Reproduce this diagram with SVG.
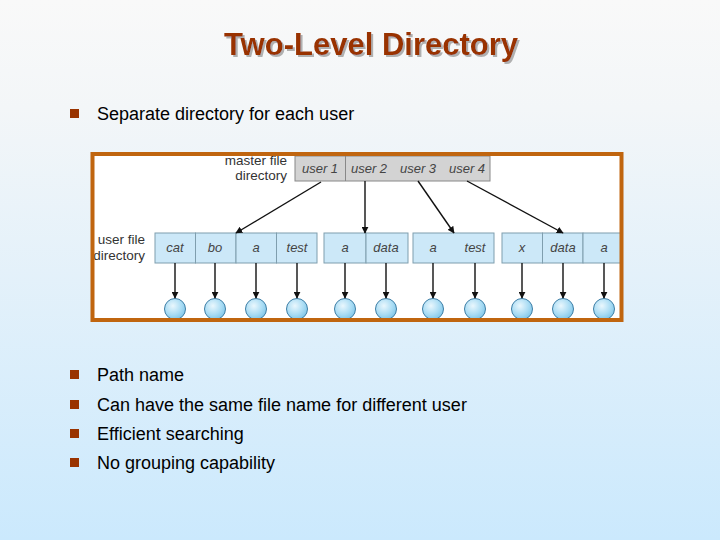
<svg xmlns="http://www.w3.org/2000/svg" width="720" height="540" viewBox="0 0 720 540">
<defs>
<linearGradient id="bg" x1="0" y1="0" x2="0" y2="1">
<stop offset="0" stop-color="#f9f9f9"/>
<stop offset="0.2" stop-color="#f3f6f8"/>
<stop offset="1" stop-color="#cbe9fd"/>
</linearGradient>
<radialGradient id="ball" cx="0.4" cy="0.35" r="0.7">
<stop offset="0" stop-color="#eaf7fd"/>
<stop offset="0.6" stop-color="#a9dcf4"/>
<stop offset="1" stop-color="#7cc4e8"/>
</radialGradient>
<filter id="tsh" x="-5%" y="-20%" width="110%" height="140%">
<feDropShadow dx="2" dy="2" stdDeviation="0.3" flood-color="#b0b0b0" flood-opacity="1"/>
</filter>
<marker id="ah" viewBox="0 0 10 10" refX="9" refY="5" markerWidth="7" markerHeight="7" markerUnits="userSpaceOnUse" orient="auto">
<path d="M0,0 L10,5 L0,10 z" fill="#111"/>
</marker>
<style>
.title{font-family:"Liberation Sans",Arial,sans-serif;font-weight:bold;font-size:31px;fill:#993300}
.bul{fill:#993300}
.bt{font-family:"Liberation Sans",Arial,sans-serif;font-size:18px;fill:#000}
.lbl{font-family:"Liberation Sans",Arial,sans-serif;font-size:13.5px;fill:#333}
.cell{fill:#cce8f8;stroke:#7f9eae;stroke-width:1}
.mcell{fill:#d3d3d3;stroke:#888;stroke-width:1}
.ct{font-family:"Liberation Sans",Arial,sans-serif;font-style:italic;font-size:13px;fill:#444;text-anchor:middle}
.conn line{stroke:#111;stroke-width:1.4;marker-end:url(#ah)}
.file{fill:url(#ball);stroke:#3d7ea6;stroke-width:1}
</style>
</defs>
<rect x="0" y="0" width="720" height="540" fill="url(#bg)"/>
<g id="title">
<text class="title" x="371" y="55" text-anchor="middle" filter="url(#tsh)">Two-Level Directory</text>
</g>
<g id="bullet1">
<rect class="bul" x="70" y="109" width="9" height="9"/>
<text class="bt" x="97" y="120">Separate directory for each user</text>
</g>
<rect x="92.5" y="154" width="529" height="166" fill="#fff"/>
<g id="master-label">
<text class="lbl" x="287" y="165" text-anchor="end">master file</text>
<text class="lbl" x="287" y="180" text-anchor="end">directory</text>
</g>
<g id="master">
<rect class="mcell" x="295" y="156" width="195" height="25"/>
<line x1="345.5" y1="156" x2="345.5" y2="181" stroke="#888"/>
<text class="ct" x="320" y="173">user 1</text>
<text class="ct" x="369" y="173">user 2</text>
<text class="ct" x="418" y="173">user 3</text>
<text class="ct" x="467" y="173">user 4</text>
</g>
<g id="ufd-label">
<text class="lbl" x="145" y="244" text-anchor="end">user file</text>
<text class="lbl" x="145" y="260" text-anchor="end">directory</text>
</g>
<g id="ufd1">
<rect class="cell" x="155" y="233" width="40.5" height="30"/>
<rect class="cell" x="195.5" y="233" width="40.5" height="30"/>
<rect class="cell" x="236" y="233" width="40.5" height="30"/>
<rect class="cell" x="276.5" y="233" width="40.5" height="30"/>
<text class="ct" x="175" y="252">cat</text>
<text class="ct" x="215" y="252">bo</text>
<text class="ct" x="256" y="252">a</text>
<text class="ct" x="297" y="252">test</text>
</g>
<g id="ufd2">
<rect class="cell" x="324" y="233" width="42" height="30"/>
<rect class="cell" x="366" y="233" width="42" height="30"/>
<text class="ct" x="345" y="252">a</text>
<text class="ct" x="386" y="252">data</text>
</g>
<g id="ufd3">
<rect class="cell" x="413" y="233" width="81" height="30"/>
<text class="ct" x="433" y="252">a</text>
<text class="ct" x="475" y="252">test</text>
</g>
<g id="ufd4">
<rect class="cell" x="502" y="233" width="40.5" height="30"/>
<rect class="cell" x="542.5" y="233" width="40.5" height="30"/>
<rect class="cell" x="583" y="233" width="38" height="30"/>
<text class="ct" x="522" y="252">x</text>
<text class="ct" x="563" y="252">data</text>
<text class="ct" x="604" y="252">a</text>
</g>
<g id="files">
<circle class="file" cx="175" cy="309" r="10.5"/>
<circle class="file" cx="215" cy="309" r="10.5"/>
<circle class="file" cx="256" cy="309" r="10.5"/>
<circle class="file" cx="297" cy="309" r="10.5"/>
<circle class="file" cx="345" cy="309" r="10.5"/>
<circle class="file" cx="386" cy="309" r="10.5"/>
<circle class="file" cx="433" cy="309" r="10.5"/>
<circle class="file" cx="475" cy="309" r="10.5"/>
<circle class="file" cx="522" cy="309" r="10.5"/>
<circle class="file" cx="563" cy="309" r="10.5"/>
<circle class="file" cx="604" cy="309" r="10.5"/>
</g>
<g id="connectors" class="conn">
<line x1="321" y1="182" x2="236" y2="233"/>
<line x1="365" y1="181" x2="365" y2="233"/>
<line x1="418" y1="181" x2="454" y2="233"/>
<line x1="467" y1="181" x2="563" y2="233"/>
<line x1="175" y1="263" x2="175" y2="298"/>
<line x1="215" y1="263" x2="215" y2="298"/>
<line x1="256" y1="263" x2="256" y2="298"/>
<line x1="297" y1="263" x2="297" y2="298"/>
<line x1="345" y1="263" x2="345" y2="298"/>
<line x1="386" y1="263" x2="386" y2="298"/>
<line x1="433" y1="263" x2="433" y2="298"/>
<line x1="475" y1="263" x2="475" y2="298"/>
<line x1="522" y1="263" x2="522" y2="298"/>
<line x1="563" y1="263" x2="563" y2="298"/>
<line x1="604" y1="263" x2="604" y2="298"/>
</g>
<rect id="frame" x="92.5" y="154" width="529" height="166" fill="none" stroke="#c0650f" stroke-width="4"/>
<g id="bullet2">
<rect class="bul" x="70" y="370" width="9" height="9"/>
<text class="bt" x="97" y="381">Path name</text>
</g>
<g id="bullet3">
<rect class="bul" x="70" y="400" width="9" height="9"/>
<text class="bt" x="97" y="411">Can have the same file name for different user</text>
</g>
<g id="bullet4">
<rect class="bul" x="70" y="429" width="9" height="9"/>
<text class="bt" x="97" y="440">Efficient searching</text>
</g>
<g id="bullet5">
<rect class="bul" x="70" y="458" width="9" height="9"/>
<text class="bt" x="97" y="469">No grouping capability</text>
</g>
</svg>
